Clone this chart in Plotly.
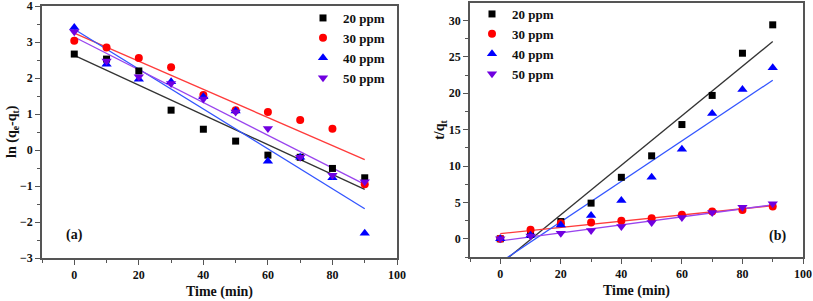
import numpy as np
import plotly.graph_objects as go

time = [0, 10, 20, 30, 40, 50, 60, 70, 80, 90]
series_names = ["20 ppm", "30 ppm", "40 ppm", "50 ppm"]

# Panel (a): ln(qe - qt)
ln_20 = [2.67, 2.53, 2.20, 1.11, 0.58, 0.25, -0.14, -0.20, -0.51, -0.77]
ln_30 = [3.04, 2.85, 2.56, 2.30, 1.53, 1.11, 1.06, 0.84, 0.59, -0.95]
ln_40 = [3.41, 2.39, 1.97, 1.90, 1.48, 1.09, -0.31, -0.20, -0.77, -2.31]
ln_50 = [3.29, 2.48, 2.04, 1.85, 1.42, 1.06, 0.60, -0.20, -0.70, -0.88]

# Panel (b): t/qt
tq_20 = [0.0, 0.60, 2.37, 4.90, 8.45, 11.40, 15.70, 19.70, 25.50, 29.40]
tq_30 = [0.0, 1.23, 2.15, 2.24, 2.47, 2.83, 3.29, 3.74, 3.97, 4.43]
tq_40 = [0.0, 0.50, 1.90, 3.20, 5.25, 8.45, 12.30, 17.20, 20.50, 23.50]
tq_50 = [0.0, 0.40, 0.78, 1.14, 1.70, 2.24, 2.92, 3.60, 4.34, 4.80]

marker_colors = ["#000000", "#ff0000", "#0000ff", "#7000e0"]
line_colors = ["#333333", "#ff3b3b", "#3355ff", "#9944ee"]
symbols = ["square", "circle", "triangle-up", "triangle-down"]
sizes = [7, 8, 9, 9]

FONT = "Liberation Serif, Times New Roman, serif"
TXT = "#111111"

fig = go.Figure()

def add_panel(data, xa, ya, legend):
    t = np.array(time, dtype=float)
    for name, ys, lc in zip(series_names, data, line_colors):
        slope, icpt = np.polyfit(t, np.array(ys, dtype=float), 1)
        fig.add_trace(go.Scatter(
            x=time, y=list(slope * t + icpt), mode="lines",
            line=dict(color=lc, width=1.3), xaxis=xa, yaxis=ya,
            showlegend=False, hoverinfo="skip"))
    for name, ys, mc, sym, sz in zip(series_names, data, marker_colors, symbols, sizes):
        fig.add_trace(go.Scatter(
            x=time, y=ys, mode="markers", name=name,
            marker=dict(symbol=sym, color=mc, size=sz, line=dict(width=0)),
            xaxis=xa, yaxis=ya, legend=legend, cliponaxis=False))

add_panel([ln_20, ln_30, ln_40, ln_50], "x", "y", "legend")
add_panel([tq_20, tq_30, tq_40, tq_50], "x2", "y2", "legend2")

axis_common = dict(
    showline=True, linecolor="#555555", linewidth=1.5, mirror=True,
    ticks="outside", ticklen=5, tickwidth=1.2, tickcolor="#555555",
    showgrid=False, zeroline=False, ticklabeloverflow="allow", automargin=False,
    tickfont=dict(family=FONT, size=12, color=TXT, weight="bold"),
)

title_font = dict(family=FONT, size=14, color=TXT, weight="bold")

xaxis_common = dict(axis_common, range=[-10, 100], tick0=0, dtick=20,
                    minor=dict(ticks="outside", ticklen=3, dtick=10, tick0=0, tickcolor="#555555"),
                    title=dict(text="Time (min)", standoff=5, font=title_font))

legend_font = dict(family=FONT, size=13, color=TXT, weight="bold")

fig.update_layout(
    width=813, height=301,
    margin=dict(l=0, r=0, t=0, b=0, autoexpand=False),
    paper_bgcolor="white", plot_bgcolor="white",
    font=dict(family=FONT, weight="bold", color=TXT),
    xaxis=dict(xaxis_common, domain=[42 / 813, 397 / 813], anchor="y"),
    yaxis=dict(axis_common, range=[-3, 4.02], tick0=0, dtick=1,
               domain=[1 - 258 / 301, 1 - 5.5 / 301], anchor="x",
               minor=dict(ticks="outside", ticklen=3, dtick=0.5, tick0=0, tickcolor="#555555"),
               title=dict(text="ln (q<sub>e</sub>-q<sub>t</sub>)", standoff=0, font=title_font)),
    xaxis2=dict(xaxis_common, domain=[470 / 813, 803 / 813], anchor="y2"),
    yaxis2=dict(axis_common, range=[-2.5, 32.4], tick0=0, dtick=5,
                domain=[1 - 257 / 301, 1 - 3 / 301], anchor="x2",
                minor=dict(ticks="outside", ticklen=3, dtick=2.5, tick0=0, tickcolor="#555555"),
                title=dict(text="t/q<sub>t</sub>", standoff=0, font=title_font)),
    legend=dict(x=303 / 813, y=1 - 3 / 301, xanchor="left", yanchor="top",
                bgcolor="rgba(0,0,0,0)", font=legend_font, itemwidth=30, tracegroupgap=0),
    legend2=dict(x=472 / 813, y=1 + 1 / 301, xanchor="left", yanchor="top",
                 bgcolor="rgba(0,0,0,0)", font=legend_font, itemwidth=30, tracegroupgap=0),
    annotations=[
        dict(text="(a)", x=0, y=-2.36, xref="x", yref="y", showarrow=False, font=title_font),
        dict(text="(b)", x=91.5, y=0.4, xref="x2", yref="y2", showarrow=False, font=title_font),
    ],
)

fig.write_html("out.html", config={"displayModeBar": False},
               post_script="document.body.style.margin='0';document.body.style.overflow='hidden';")
